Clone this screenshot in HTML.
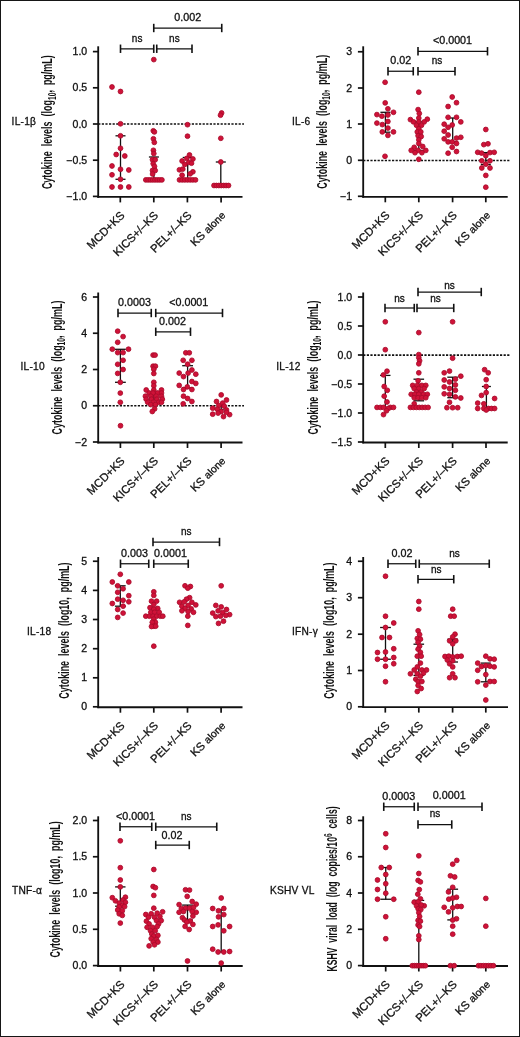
<!DOCTYPE html>
<html><head><meta charset="utf-8"><title>Figure</title>
<style>
html,body{margin:0;padding:0;background:#fff;}
body{width:520px;height:1037px;overflow:hidden;position:relative;font-family:"Liberation Sans",sans-serif;}
#frame{position:absolute;left:0;top:0;width:518px;height:1035px;border:1px solid #161616;}
svg text{stroke:#111;stroke-width:0.3px;}
svg text.yl{stroke-width:0;}
svg{position:absolute;left:0;top:0;will-change:transform;font-family:"Liberation Sans",sans-serif;}
</style></head><body>
<div id="frame"></div>
<svg width="520" height="1037" viewBox="0 0 520 1037">
<line x1="98.20" y1="124.00" x2="244.00" y2="124.00" stroke="#111" stroke-width="1.55" stroke-dasharray="2.2 1.4"/>
<line x1="98.20" y1="46.30" x2="98.20" y2="197.80" stroke="#111" stroke-width="1.85" />
<line x1="97.30" y1="196.90" x2="242.50" y2="196.90" stroke="#111" stroke-width="1.85" />
<line x1="92.90" y1="51.60" x2="98.20" y2="51.60" stroke="#111" stroke-width="1.7" />
<text transform="translate(87.20,55.15) scale(1.055,1)" font-size="10.0" text-anchor="end" fill="#111" >1.0</text>
<line x1="92.90" y1="87.80" x2="98.20" y2="87.80" stroke="#111" stroke-width="1.7" />
<text transform="translate(87.20,91.35) scale(1.055,1)" font-size="10.0" text-anchor="end" fill="#111" >0.5</text>
<line x1="92.90" y1="124.00" x2="98.20" y2="124.00" stroke="#111" stroke-width="1.7" />
<text transform="translate(87.20,127.55) scale(1.055,1)" font-size="10.0" text-anchor="end" fill="#111" >0.0</text>
<line x1="92.90" y1="160.20" x2="98.20" y2="160.20" stroke="#111" stroke-width="1.7" />
<text transform="translate(87.20,163.75) scale(1.055,1)" font-size="10.0" text-anchor="end" fill="#111" >−0.5</text>
<line x1="92.90" y1="196.40" x2="98.20" y2="196.40" stroke="#111" stroke-width="1.7" />
<text transform="translate(87.20,199.95) scale(1.055,1)" font-size="10.0" text-anchor="end" fill="#111" >−1.0</text>
<line x1="120.30" y1="196.90" x2="120.30" y2="202.40" stroke="#111" stroke-width="1.7" />
<g transform="translate(125.30,216.00) rotate(-45)">
<text x="0.00" y="0.00" font-size="11.4" text-anchor="end" fill="#111" >MCD+KS</text>
</g>
<line x1="153.80" y1="196.90" x2="153.80" y2="202.40" stroke="#111" stroke-width="1.7" />
<g transform="translate(158.80,216.00) rotate(-45)">
<text x="0.00" y="0.00" font-size="11.4" text-anchor="end" fill="#111" >KICS+/–KS</text>
</g>
<line x1="187.40" y1="196.90" x2="187.40" y2="202.40" stroke="#111" stroke-width="1.7" />
<g transform="translate(192.40,216.00) rotate(-45)">
<text x="0.00" y="0.00" font-size="11.4" text-anchor="end" fill="#111" >PEL+/–KS</text>
</g>
<line x1="221.10" y1="196.90" x2="221.10" y2="202.40" stroke="#111" stroke-width="1.7" />
<g transform="translate(226.10,216.00) rotate(-45)">
<text x="0" y="0" font-size="11.4" text-anchor="end" fill="#111">KS <tspan font-size="10.4">alone</tspan></text>
</g>
<line x1="120.50" y1="135.80" x2="120.50" y2="179.30" stroke="#111" stroke-width="1.3" />
<line x1="115.50" y1="135.80" x2="125.50" y2="135.80" stroke="#111" stroke-width="1.3" />
<line x1="115.50" y1="179.30" x2="125.50" y2="179.30" stroke="#111" stroke-width="1.3" />
<line x1="153.90" y1="157.00" x2="153.90" y2="179.90" stroke="#111" stroke-width="1.3" />
<line x1="148.90" y1="157.00" x2="158.90" y2="157.00" stroke="#111" stroke-width="1.3" />
<line x1="148.90" y1="179.90" x2="158.90" y2="179.90" stroke="#111" stroke-width="1.3" />
<line x1="187.70" y1="157.50" x2="187.70" y2="179.90" stroke="#111" stroke-width="1.3" />
<line x1="182.70" y1="157.50" x2="192.70" y2="157.50" stroke="#111" stroke-width="1.3" />
<line x1="182.70" y1="179.90" x2="192.70" y2="179.90" stroke="#111" stroke-width="1.3" />
<line x1="220.80" y1="162.00" x2="220.80" y2="185.50" stroke="#111" stroke-width="1.3" />
<line x1="215.80" y1="162.00" x2="225.80" y2="162.00" stroke="#111" stroke-width="1.3" />
<g fill="#cf1238" stroke="#a90b2a" stroke-width="0.85">
<circle cx="112.00" cy="87.00" r="2.4"/>
<circle cx="120.50" cy="91.50" r="2.4"/>
<circle cx="120.50" cy="123.80" r="2.4"/>
<circle cx="120.50" cy="135.80" r="2.4"/>
<circle cx="120.50" cy="148.30" r="2.4"/>
<circle cx="116.20" cy="154.50" r="2.4"/>
<circle cx="124.80" cy="156.00" r="2.4"/>
<circle cx="112.00" cy="166.00" r="2.4"/>
<circle cx="120.50" cy="169.30" r="2.4"/>
<circle cx="128.80" cy="170.00" r="2.4"/>
<circle cx="112.00" cy="174.80" r="2.4"/>
<circle cx="120.50" cy="179.30" r="2.4"/>
<circle cx="112.00" cy="187.00" r="2.4"/>
<circle cx="120.50" cy="187.00" r="2.4"/>
<circle cx="128.80" cy="187.00" r="2.4"/>
<circle cx="153.80" cy="59.60" r="2.4"/>
<circle cx="153.30" cy="130.80" r="2.4"/>
<circle cx="154.40" cy="131.90" r="2.4"/>
<circle cx="153.40" cy="138.80" r="2.4"/>
<circle cx="154.30" cy="142.40" r="2.4"/>
<circle cx="153.40" cy="150.30" r="2.4"/>
<circle cx="153.80" cy="153.60" r="2.4"/>
<circle cx="152.50" cy="159.70" r="2.4"/>
<circle cx="155.20" cy="159.70" r="2.4"/>
<circle cx="153.20" cy="163.70" r="2.4"/>
<circle cx="154.50" cy="166.40" r="2.4"/>
<circle cx="152.50" cy="170.50" r="2.4"/>
<circle cx="155.20" cy="170.50" r="2.4"/>
<circle cx="152.60" cy="174.00" r="2.4"/>
<circle cx="145.80" cy="179.90" r="2.4"/>
<circle cx="148.10" cy="179.90" r="2.4"/>
<circle cx="150.40" cy="179.90" r="2.4"/>
<circle cx="152.70" cy="179.90" r="2.4"/>
<circle cx="155.00" cy="179.90" r="2.4"/>
<circle cx="157.30" cy="179.90" r="2.4"/>
<circle cx="159.60" cy="179.90" r="2.4"/>
<circle cx="161.90" cy="179.90" r="2.4"/>
<circle cx="187.50" cy="124.70" r="2.4"/>
<circle cx="187.50" cy="136.20" r="2.4"/>
<circle cx="189.50" cy="155.00" r="2.4"/>
<circle cx="186.80" cy="158.40" r="2.4"/>
<circle cx="192.90" cy="159.00" r="2.4"/>
<circle cx="182.10" cy="161.00" r="2.4"/>
<circle cx="188.80" cy="162.40" r="2.4"/>
<circle cx="184.80" cy="164.40" r="2.4"/>
<circle cx="191.50" cy="163.20" r="2.4"/>
<circle cx="179.40" cy="169.80" r="2.4"/>
<circle cx="182.80" cy="169.10" r="2.4"/>
<circle cx="192.90" cy="171.80" r="2.4"/>
<circle cx="190.20" cy="173.80" r="2.4"/>
<circle cx="182.10" cy="175.20" r="2.4"/>
<circle cx="179.50" cy="179.90" r="2.4"/>
<circle cx="182.17" cy="179.90" r="2.4"/>
<circle cx="184.83" cy="179.90" r="2.4"/>
<circle cx="187.50" cy="179.90" r="2.4"/>
<circle cx="190.17" cy="179.90" r="2.4"/>
<circle cx="192.83" cy="179.90" r="2.4"/>
<circle cx="195.50" cy="179.90" r="2.4"/>
<circle cx="221.60" cy="113.00" r="2.4"/>
<circle cx="220.50" cy="115.20" r="2.4"/>
<circle cx="220.80" cy="138.30" r="2.4"/>
<circle cx="220.80" cy="162.00" r="2.4"/>
<circle cx="214.00" cy="185.50" r="2.4"/>
<circle cx="216.42" cy="185.50" r="2.4"/>
<circle cx="218.83" cy="185.50" r="2.4"/>
<circle cx="221.25" cy="185.50" r="2.4"/>
<circle cx="223.67" cy="185.50" r="2.4"/>
<circle cx="226.08" cy="185.50" r="2.4"/>
<circle cx="228.50" cy="185.50" r="2.4"/>
</g>
<line x1="120.50" y1="48.75" x2="153.75" y2="48.75" stroke="#111" stroke-width="1.25" />
<line x1="120.50" y1="44.55" x2="120.50" y2="52.95" stroke="#111" stroke-width="1.6" />
<line x1="153.75" y1="44.55" x2="153.75" y2="52.95" stroke="#111" stroke-width="1.6" />
<text x="137.12" y="41.75" font-size="10.0" text-anchor="middle" fill="#111" >ns</text>
<line x1="156.75" y1="48.75" x2="192.00" y2="48.75" stroke="#111" stroke-width="1.25" />
<line x1="156.75" y1="44.55" x2="156.75" y2="52.95" stroke="#111" stroke-width="1.6" />
<line x1="192.00" y1="44.55" x2="192.00" y2="52.95" stroke="#111" stroke-width="1.6" />
<text x="174.38" y="41.75" font-size="10.0" text-anchor="middle" fill="#111" >ns</text>
<line x1="153.75" y1="28.00" x2="221.75" y2="28.00" stroke="#111" stroke-width="1.25" />
<line x1="153.75" y1="23.80" x2="153.75" y2="32.20" stroke="#111" stroke-width="1.6" />
<line x1="221.75" y1="23.80" x2="221.75" y2="32.20" stroke="#111" stroke-width="1.6" />
<text transform="translate(187.75,21.00) scale(1.075,1)" font-size="10.0" text-anchor="middle" fill="#111" >0.002</text>
<text x="11.60" y="124.80" font-size="10.2" text-anchor="start" fill="#111" letter-spacing="0.22">IL-1β</text>
<g transform="translate(52.40,122.20) rotate(-90) scale(0.612,1)">
<text x="0.00" y="0.00" font-size="14.6" text-anchor="middle" fill="#111" class="yl" font-weight="bold" word-spacing="4.2">Cytokine levels (log<tspan font-size="11" dy="3.2">10</tspan><tspan dy="-3.2">, pg/mL)</tspan></text>
</g>
<line x1="363.20" y1="160.40" x2="509.50" y2="160.40" stroke="#111" stroke-width="1.55" stroke-dasharray="2.2 1.4"/>
<line x1="363.20" y1="46.30" x2="363.20" y2="197.70" stroke="#111" stroke-width="1.85" />
<line x1="362.30" y1="196.80" x2="507.70" y2="196.80" stroke="#111" stroke-width="1.85" />
<line x1="357.90" y1="51.75" x2="363.20" y2="51.75" stroke="#111" stroke-width="1.7" />
<text transform="translate(352.20,55.30) scale(1.055,1)" font-size="10.0" text-anchor="end" fill="#111" >3</text>
<line x1="357.90" y1="88.00" x2="363.20" y2="88.00" stroke="#111" stroke-width="1.7" />
<text transform="translate(352.20,91.55) scale(1.055,1)" font-size="10.0" text-anchor="end" fill="#111" >2</text>
<line x1="357.90" y1="124.00" x2="363.20" y2="124.00" stroke="#111" stroke-width="1.7" />
<text transform="translate(352.20,127.55) scale(1.055,1)" font-size="10.0" text-anchor="end" fill="#111" >1</text>
<line x1="357.90" y1="160.30" x2="363.20" y2="160.30" stroke="#111" stroke-width="1.7" />
<text transform="translate(352.20,163.85) scale(1.055,1)" font-size="10.0" text-anchor="end" fill="#111" >0</text>
<line x1="357.90" y1="196.30" x2="363.20" y2="196.30" stroke="#111" stroke-width="1.7" />
<text transform="translate(352.20,199.85) scale(1.055,1)" font-size="10.0" text-anchor="end" fill="#111" >−1</text>
<line x1="385.30" y1="196.80" x2="385.30" y2="202.30" stroke="#111" stroke-width="1.7" />
<g transform="translate(390.30,215.90) rotate(-45)">
<text x="0.00" y="0.00" font-size="11.4" text-anchor="end" fill="#111" >MCD+KS</text>
</g>
<line x1="418.80" y1="196.80" x2="418.80" y2="202.30" stroke="#111" stroke-width="1.7" />
<g transform="translate(423.80,215.90) rotate(-45)">
<text x="0.00" y="0.00" font-size="11.4" text-anchor="end" fill="#111" >KICS+/–KS</text>
</g>
<line x1="452.60" y1="196.80" x2="452.60" y2="202.30" stroke="#111" stroke-width="1.7" />
<g transform="translate(457.60,215.90) rotate(-45)">
<text x="0.00" y="0.00" font-size="11.4" text-anchor="end" fill="#111" >PEL+/–KS</text>
</g>
<line x1="485.80" y1="196.80" x2="485.80" y2="202.30" stroke="#111" stroke-width="1.7" />
<g transform="translate(490.80,215.90) rotate(-45)">
<text x="0" y="0" font-size="11.4" text-anchor="end" fill="#111">KS <tspan font-size="10.4">alone</tspan></text>
</g>
<line x1="385.40" y1="112.30" x2="385.40" y2="132.20" stroke="#111" stroke-width="1.3" />
<line x1="380.40" y1="112.30" x2="390.40" y2="112.30" stroke="#111" stroke-width="1.3" />
<line x1="380.40" y1="132.20" x2="390.40" y2="132.20" stroke="#111" stroke-width="1.3" />
<line x1="418.80" y1="121.90" x2="418.80" y2="150.40" stroke="#111" stroke-width="1.3" />
<line x1="413.80" y1="121.90" x2="423.80" y2="121.90" stroke="#111" stroke-width="1.3" />
<line x1="413.80" y1="150.40" x2="423.80" y2="150.40" stroke="#111" stroke-width="1.3" />
<line x1="452.70" y1="118.00" x2="452.70" y2="142.00" stroke="#111" stroke-width="1.3" />
<line x1="447.70" y1="118.00" x2="457.70" y2="118.00" stroke="#111" stroke-width="1.3" />
<line x1="447.70" y1="142.00" x2="457.70" y2="142.00" stroke="#111" stroke-width="1.3" />
<line x1="485.80" y1="152.60" x2="485.80" y2="164.50" stroke="#111" stroke-width="1.3" />
<line x1="480.80" y1="152.60" x2="490.80" y2="152.60" stroke="#111" stroke-width="1.3" />
<line x1="480.80" y1="164.50" x2="490.80" y2="164.50" stroke="#111" stroke-width="1.3" />
<g fill="#cf1238" stroke="#a90b2a" stroke-width="0.85">
<circle cx="385.10" cy="82.30" r="2.4"/>
<circle cx="385.20" cy="102.90" r="2.4"/>
<circle cx="387.90" cy="108.80" r="2.4"/>
<circle cx="393.50" cy="112.30" r="2.4"/>
<circle cx="376.90" cy="114.60" r="2.4"/>
<circle cx="381.90" cy="116.20" r="2.4"/>
<circle cx="387.90" cy="115.00" r="2.4"/>
<circle cx="387.90" cy="121.50" r="2.4"/>
<circle cx="376.90" cy="123.10" r="2.4"/>
<circle cx="382.30" cy="124.60" r="2.4"/>
<circle cx="387.90" cy="128.10" r="2.4"/>
<circle cx="382.30" cy="131.90" r="2.4"/>
<circle cx="393.50" cy="131.90" r="2.4"/>
<circle cx="387.90" cy="135.40" r="2.4"/>
<circle cx="385.00" cy="156.30" r="2.4"/>
<circle cx="418.80" cy="92.20" r="2.4"/>
<circle cx="418.10" cy="109.60" r="2.4"/>
<circle cx="419.30" cy="113.50" r="2.4"/>
<circle cx="410.40" cy="119.60" r="2.4"/>
<circle cx="427.30" cy="119.20" r="2.4"/>
<circle cx="413.50" cy="121.90" r="2.4"/>
<circle cx="424.20" cy="121.90" r="2.4"/>
<circle cx="418.80" cy="118.10" r="2.4"/>
<circle cx="418.80" cy="121.90" r="2.4"/>
<circle cx="416.50" cy="125.30" r="2.4"/>
<circle cx="421.50" cy="125.30" r="2.4"/>
<circle cx="418.80" cy="128.80" r="2.4"/>
<circle cx="417.30" cy="131.90" r="2.4"/>
<circle cx="420.80" cy="131.90" r="2.4"/>
<circle cx="418.10" cy="135.80" r="2.4"/>
<circle cx="421.20" cy="136.50" r="2.4"/>
<circle cx="418.80" cy="139.80" r="2.4"/>
<circle cx="418.80" cy="143.50" r="2.4"/>
<circle cx="414.20" cy="147.30" r="2.4"/>
<circle cx="422.70" cy="146.50" r="2.4"/>
<circle cx="411.20" cy="150.40" r="2.4"/>
<circle cx="418.10" cy="150.40" r="2.4"/>
<circle cx="425.80" cy="150.40" r="2.4"/>
<circle cx="415.00" cy="152.70" r="2.4"/>
<circle cx="421.90" cy="152.70" r="2.4"/>
<circle cx="418.80" cy="159.30" r="2.4"/>
<circle cx="452.20" cy="97.00" r="2.4"/>
<circle cx="456.50" cy="102.70" r="2.4"/>
<circle cx="448.10" cy="106.50" r="2.4"/>
<circle cx="448.10" cy="117.30" r="2.4"/>
<circle cx="456.50" cy="117.30" r="2.4"/>
<circle cx="460.80" cy="121.90" r="2.4"/>
<circle cx="444.20" cy="124.20" r="2.4"/>
<circle cx="452.20" cy="125.00" r="2.4"/>
<circle cx="448.10" cy="127.30" r="2.4"/>
<circle cx="444.20" cy="131.20" r="2.4"/>
<circle cx="448.10" cy="135.00" r="2.4"/>
<circle cx="444.20" cy="138.80" r="2.4"/>
<circle cx="456.50" cy="138.10" r="2.4"/>
<circle cx="460.80" cy="137.30" r="2.4"/>
<circle cx="448.10" cy="141.90" r="2.4"/>
<circle cx="452.20" cy="141.90" r="2.4"/>
<circle cx="456.50" cy="143.50" r="2.4"/>
<circle cx="452.20" cy="147.30" r="2.4"/>
<circle cx="456.50" cy="151.50" r="2.4"/>
<circle cx="448.10" cy="153.20" r="2.4"/>
<circle cx="485.80" cy="129.50" r="2.4"/>
<circle cx="483.80" cy="144.60" r="2.4"/>
<circle cx="488.00" cy="143.80" r="2.4"/>
<circle cx="477.70" cy="152.30" r="2.4"/>
<circle cx="481.50" cy="153.10" r="2.4"/>
<circle cx="490.00" cy="152.60" r="2.4"/>
<circle cx="494.20" cy="152.30" r="2.4"/>
<circle cx="485.80" cy="155.70" r="2.4"/>
<circle cx="481.80" cy="160.80" r="2.4"/>
<circle cx="490.00" cy="160.80" r="2.4"/>
<circle cx="485.80" cy="164.20" r="2.4"/>
<circle cx="481.80" cy="168.00" r="2.4"/>
<circle cx="490.00" cy="168.00" r="2.4"/>
<circle cx="485.80" cy="175.40" r="2.4"/>
<circle cx="485.80" cy="187.20" r="2.4"/>
</g>
<line x1="388.00" y1="71.25" x2="413.25" y2="71.25" stroke="#111" stroke-width="1.25" />
<line x1="388.00" y1="67.05" x2="388.00" y2="75.45" stroke="#111" stroke-width="1.6" />
<line x1="413.25" y1="67.05" x2="413.25" y2="75.45" stroke="#111" stroke-width="1.6" />
<text transform="translate(400.75,64.25) scale(1.075,1)" font-size="10.0" text-anchor="middle" fill="#111" >0.02</text>
<line x1="418.00" y1="71.25" x2="455.00" y2="71.25" stroke="#111" stroke-width="1.25" />
<line x1="418.00" y1="67.05" x2="418.00" y2="75.45" stroke="#111" stroke-width="1.6" />
<line x1="455.00" y1="67.05" x2="455.00" y2="75.45" stroke="#111" stroke-width="1.6" />
<text x="437.00" y="64.25" font-size="10.0" text-anchor="middle" fill="#111" >ns</text>
<line x1="418.00" y1="51.25" x2="487.50" y2="51.25" stroke="#111" stroke-width="1.25" />
<line x1="418.00" y1="47.05" x2="418.00" y2="55.45" stroke="#111" stroke-width="1.6" />
<line x1="487.50" y1="47.05" x2="487.50" y2="55.45" stroke="#111" stroke-width="1.6" />
<text transform="translate(452.50,44.25) scale(1.075,1)" font-size="10.0" text-anchor="middle" fill="#111" >&lt;0.0001</text>
<text x="292.00" y="125.40" font-size="10.2" text-anchor="start" fill="#111" letter-spacing="0.22">IL-6</text>
<g transform="translate(326.80,121.75) rotate(-90) scale(0.612,1)">
<text x="0.00" y="0.00" font-size="14.6" text-anchor="middle" fill="#111" class="yl" font-weight="bold" word-spacing="4.2">Cytokine levels (log<tspan font-size="11" dy="3.2">10</tspan><tspan dy="-3.2">, pg/mL)</tspan></text>
</g>
<line x1="98.20" y1="405.70" x2="244.00" y2="405.70" stroke="#111" stroke-width="1.55" stroke-dasharray="2.2 1.4"/>
<line x1="98.20" y1="292.50" x2="98.20" y2="443.40" stroke="#111" stroke-width="1.85" />
<line x1="97.30" y1="442.50" x2="242.50" y2="442.50" stroke="#111" stroke-width="1.85" />
<line x1="92.90" y1="297.00" x2="98.20" y2="297.00" stroke="#111" stroke-width="1.7" />
<text transform="translate(87.20,300.55) scale(1.055,1)" font-size="10.0" text-anchor="end" fill="#111" >6</text>
<line x1="92.90" y1="333.25" x2="98.20" y2="333.25" stroke="#111" stroke-width="1.7" />
<text transform="translate(87.20,336.80) scale(1.055,1)" font-size="10.0" text-anchor="end" fill="#111" >4</text>
<line x1="92.90" y1="369.50" x2="98.20" y2="369.50" stroke="#111" stroke-width="1.7" />
<text transform="translate(87.20,373.05) scale(1.055,1)" font-size="10.0" text-anchor="end" fill="#111" >2</text>
<line x1="92.90" y1="405.75" x2="98.20" y2="405.75" stroke="#111" stroke-width="1.7" />
<text transform="translate(87.20,409.30) scale(1.055,1)" font-size="10.0" text-anchor="end" fill="#111" >0</text>
<line x1="92.90" y1="442.00" x2="98.20" y2="442.00" stroke="#111" stroke-width="1.7" />
<text transform="translate(87.20,445.55) scale(1.055,1)" font-size="10.0" text-anchor="end" fill="#111" >−2</text>
<line x1="120.40" y1="442.50" x2="120.40" y2="448.00" stroke="#111" stroke-width="1.7" />
<g transform="translate(125.40,461.60) rotate(-45)">
<text x="0.00" y="0.00" font-size="11.4" text-anchor="end" fill="#111" >MCD+KS</text>
</g>
<line x1="153.80" y1="442.50" x2="153.80" y2="448.00" stroke="#111" stroke-width="1.7" />
<g transform="translate(158.80,461.60) rotate(-45)">
<text x="0.00" y="0.00" font-size="11.4" text-anchor="end" fill="#111" >KICS+/–KS</text>
</g>
<line x1="187.50" y1="442.50" x2="187.50" y2="448.00" stroke="#111" stroke-width="1.7" />
<g transform="translate(192.50,461.60) rotate(-45)">
<text x="0.00" y="0.00" font-size="11.4" text-anchor="end" fill="#111" >PEL+/–KS</text>
</g>
<line x1="221.10" y1="442.50" x2="221.10" y2="448.00" stroke="#111" stroke-width="1.7" />
<g transform="translate(226.10,461.60) rotate(-45)">
<text x="0" y="0" font-size="11.4" text-anchor="end" fill="#111">KS <tspan font-size="10.4">alone</tspan></text>
</g>
<line x1="120.40" y1="349.30" x2="120.40" y2="382.30" stroke="#111" stroke-width="1.3" />
<line x1="115.00" y1="349.30" x2="125.80" y2="349.30" stroke="#111" stroke-width="1.3" />
<line x1="115.00" y1="382.30" x2="125.80" y2="382.30" stroke="#111" stroke-width="1.3" />
<line x1="153.80" y1="393.00" x2="153.80" y2="399.20" stroke="#111" stroke-width="1.3" />
<line x1="148.80" y1="393.00" x2="158.80" y2="393.00" stroke="#111" stroke-width="1.3" />
<line x1="148.80" y1="399.20" x2="158.80" y2="399.20" stroke="#111" stroke-width="1.3" />
<line x1="187.60" y1="365.70" x2="187.60" y2="388.00" stroke="#111" stroke-width="1.3" />
<line x1="182.20" y1="365.70" x2="193.00" y2="365.70" stroke="#111" stroke-width="1.3" />
<line x1="182.20" y1="388.00" x2="193.00" y2="388.00" stroke="#111" stroke-width="1.3" />
<line x1="221.20" y1="405.80" x2="221.20" y2="409.50" stroke="#111" stroke-width="1.3" />
<line x1="218.70" y1="405.80" x2="223.70" y2="405.80" stroke="#111" stroke-width="1.3" />
<line x1="218.70" y1="409.50" x2="223.70" y2="409.50" stroke="#111" stroke-width="1.3" />
<g fill="#cf1238" stroke="#a90b2a" stroke-width="0.85">
<circle cx="117.70" cy="331.20" r="2.4"/>
<circle cx="123.10" cy="336.60" r="2.4"/>
<circle cx="117.70" cy="342.30" r="2.4"/>
<circle cx="112.30" cy="349.20" r="2.4"/>
<circle cx="128.50" cy="349.20" r="2.4"/>
<circle cx="117.70" cy="352.60" r="2.4"/>
<circle cx="123.10" cy="352.60" r="2.4"/>
<circle cx="123.10" cy="360.30" r="2.4"/>
<circle cx="117.70" cy="364.30" r="2.4"/>
<circle cx="123.10" cy="369.50" r="2.4"/>
<circle cx="117.70" cy="373.40" r="2.4"/>
<circle cx="120.30" cy="382.30" r="2.4"/>
<circle cx="120.30" cy="393.10" r="2.4"/>
<circle cx="120.30" cy="402.30" r="2.4"/>
<circle cx="120.50" cy="425.75" r="2.4"/>
<circle cx="153.10" cy="355.10" r="2.4"/>
<circle cx="155.10" cy="355.10" r="2.4"/>
<circle cx="153.10" cy="366.20" r="2.4"/>
<circle cx="155.40" cy="366.20" r="2.4"/>
<circle cx="153.80" cy="369.20" r="2.4"/>
<circle cx="153.80" cy="373.50" r="2.4"/>
<circle cx="153.80" cy="382.30" r="2.4"/>
<circle cx="153.80" cy="385.80" r="2.4"/>
<circle cx="146.20" cy="390.00" r="2.4"/>
<circle cx="153.80" cy="390.00" r="2.4"/>
<circle cx="161.50" cy="390.00" r="2.4"/>
<circle cx="149.20" cy="393.00" r="2.4"/>
<circle cx="153.10" cy="393.00" r="2.4"/>
<circle cx="157.70" cy="393.00" r="2.4"/>
<circle cx="161.50" cy="393.00" r="2.4"/>
<circle cx="145.40" cy="396.20" r="2.4"/>
<circle cx="150.80" cy="396.20" r="2.4"/>
<circle cx="156.20" cy="396.20" r="2.4"/>
<circle cx="161.50" cy="396.20" r="2.4"/>
<circle cx="146.20" cy="399.20" r="2.4"/>
<circle cx="151.50" cy="399.20" r="2.4"/>
<circle cx="156.90" cy="399.20" r="2.4"/>
<circle cx="162.30" cy="399.20" r="2.4"/>
<circle cx="147.70" cy="402.30" r="2.4"/>
<circle cx="153.10" cy="402.30" r="2.4"/>
<circle cx="158.50" cy="402.30" r="2.4"/>
<circle cx="161.50" cy="402.30" r="2.4"/>
<circle cx="150.80" cy="404.60" r="2.4"/>
<circle cx="155.40" cy="404.60" r="2.4"/>
<circle cx="154.60" cy="408.90" r="2.4"/>
<circle cx="152.30" cy="411.50" r="2.4"/>
<circle cx="185.80" cy="352.80" r="2.4"/>
<circle cx="189.30" cy="352.80" r="2.4"/>
<circle cx="183.20" cy="360.30" r="2.4"/>
<circle cx="191.90" cy="360.30" r="2.4"/>
<circle cx="187.60" cy="364.20" r="2.4"/>
<circle cx="191.90" cy="370.00" r="2.4"/>
<circle cx="179.20" cy="373.10" r="2.4"/>
<circle cx="188.10" cy="373.10" r="2.4"/>
<circle cx="195.80" cy="374.20" r="2.4"/>
<circle cx="183.50" cy="376.60" r="2.4"/>
<circle cx="191.90" cy="381.50" r="2.4"/>
<circle cx="195.80" cy="383.40" r="2.4"/>
<circle cx="179.20" cy="385.40" r="2.4"/>
<circle cx="187.30" cy="386.90" r="2.4"/>
<circle cx="183.50" cy="389.50" r="2.4"/>
<circle cx="191.90" cy="389.50" r="2.4"/>
<circle cx="183.50" cy="396.20" r="2.4"/>
<circle cx="187.60" cy="398.50" r="2.4"/>
<circle cx="191.90" cy="401.50" r="2.4"/>
<circle cx="183.20" cy="403.80" r="2.4"/>
<circle cx="221.20" cy="394.90" r="2.4"/>
<circle cx="226.50" cy="400.00" r="2.4"/>
<circle cx="216.50" cy="401.50" r="2.4"/>
<circle cx="222.70" cy="403.10" r="2.4"/>
<circle cx="218.80" cy="405.40" r="2.4"/>
<circle cx="224.20" cy="406.20" r="2.4"/>
<circle cx="212.70" cy="408.20" r="2.4"/>
<circle cx="217.30" cy="409.20" r="2.4"/>
<circle cx="226.50" cy="410.00" r="2.4"/>
<circle cx="221.20" cy="411.50" r="2.4"/>
<circle cx="212.70" cy="414.20" r="2.4"/>
<circle cx="218.10" cy="413.10" r="2.4"/>
<circle cx="229.60" cy="414.60" r="2.4"/>
<circle cx="223.50" cy="416.60" r="2.4"/>
<circle cx="226.50" cy="412.30" r="2.4"/>
</g>
<line x1="118.00" y1="313.00" x2="151.25" y2="313.00" stroke="#111" stroke-width="1.25" />
<line x1="118.00" y1="308.80" x2="118.00" y2="317.20" stroke="#111" stroke-width="1.6" />
<line x1="151.25" y1="308.80" x2="151.25" y2="317.20" stroke="#111" stroke-width="1.6" />
<text transform="translate(134.50,306.00) scale(1.075,1)" font-size="10.0" text-anchor="middle" fill="#111" >0.0003</text>
<line x1="155.75" y1="313.00" x2="222.50" y2="313.00" stroke="#111" stroke-width="1.25" />
<line x1="155.75" y1="308.80" x2="155.75" y2="317.20" stroke="#111" stroke-width="1.6" />
<line x1="222.50" y1="308.80" x2="222.50" y2="317.20" stroke="#111" stroke-width="1.6" />
<text transform="translate(188.75,306.00) scale(1.075,1)" font-size="10.0" text-anchor="middle" fill="#111" >&lt;0.0001</text>
<line x1="155.75" y1="331.75" x2="190.50" y2="331.75" stroke="#111" stroke-width="1.25" />
<line x1="155.75" y1="327.55" x2="155.75" y2="335.95" stroke="#111" stroke-width="1.6" />
<line x1="190.50" y1="327.55" x2="190.50" y2="335.95" stroke="#111" stroke-width="1.6" />
<text transform="translate(172.50,324.75) scale(1.075,1)" font-size="10.0" text-anchor="middle" fill="#111" >0.002</text>
<text x="20.50" y="370.40" font-size="10.2" text-anchor="start" fill="#111" letter-spacing="0.22">IL-10</text>
<g transform="translate(61.90,367.50) rotate(-90) scale(0.612,1)">
<text x="0.00" y="0.00" font-size="14.6" text-anchor="middle" fill="#111" class="yl" font-weight="bold" word-spacing="4.2">Cytokine levels (log<tspan font-size="11" dy="3.2">10</tspan><tspan dy="-3.2">, pg/mL)</tspan></text>
</g>
<line x1="363.20" y1="355.10" x2="509.50" y2="355.10" stroke="#111" stroke-width="1.55" stroke-dasharray="2.2 1.4"/>
<line x1="363.20" y1="292.50" x2="363.20" y2="443.40" stroke="#111" stroke-width="1.85" />
<line x1="362.30" y1="442.50" x2="507.70" y2="442.50" stroke="#111" stroke-width="1.85" />
<line x1="357.90" y1="297.00" x2="363.20" y2="297.00" stroke="#111" stroke-width="1.7" />
<text transform="translate(352.20,300.55) scale(1.055,1)" font-size="10.0" text-anchor="end" fill="#111" >1.0</text>
<line x1="357.90" y1="326.00" x2="363.20" y2="326.00" stroke="#111" stroke-width="1.7" />
<text transform="translate(352.20,329.55) scale(1.055,1)" font-size="10.0" text-anchor="end" fill="#111" >0.5</text>
<line x1="357.90" y1="355.00" x2="363.20" y2="355.00" stroke="#111" stroke-width="1.7" />
<text transform="translate(352.20,358.55) scale(1.055,1)" font-size="10.0" text-anchor="end" fill="#111" >0.0</text>
<line x1="357.90" y1="384.00" x2="363.20" y2="384.00" stroke="#111" stroke-width="1.7" />
<text transform="translate(352.20,387.55) scale(1.055,1)" font-size="10.0" text-anchor="end" fill="#111" >−0.5</text>
<line x1="357.90" y1="413.00" x2="363.20" y2="413.00" stroke="#111" stroke-width="1.7" />
<text transform="translate(352.20,416.55) scale(1.055,1)" font-size="10.0" text-anchor="end" fill="#111" >−1.0</text>
<line x1="357.90" y1="442.00" x2="363.20" y2="442.00" stroke="#111" stroke-width="1.7" />
<text transform="translate(352.20,445.55) scale(1.055,1)" font-size="10.0" text-anchor="end" fill="#111" >−1.5</text>
<line x1="385.30" y1="442.50" x2="385.30" y2="448.00" stroke="#111" stroke-width="1.7" />
<g transform="translate(390.30,461.60) rotate(-45)">
<text x="0.00" y="0.00" font-size="11.4" text-anchor="end" fill="#111" >MCD+KS</text>
</g>
<line x1="418.80" y1="442.50" x2="418.80" y2="448.00" stroke="#111" stroke-width="1.7" />
<g transform="translate(423.80,461.60) rotate(-45)">
<text x="0.00" y="0.00" font-size="11.4" text-anchor="end" fill="#111" >KICS+/–KS</text>
</g>
<line x1="452.60" y1="442.50" x2="452.60" y2="448.00" stroke="#111" stroke-width="1.7" />
<g transform="translate(457.60,461.60) rotate(-45)">
<text x="0.00" y="0.00" font-size="11.4" text-anchor="end" fill="#111" >PEL+/–KS</text>
</g>
<line x1="486.00" y1="442.50" x2="486.00" y2="448.00" stroke="#111" stroke-width="1.7" />
<g transform="translate(491.00,461.60) rotate(-45)">
<text x="0" y="0" font-size="11.4" text-anchor="end" fill="#111">KS <tspan font-size="10.4">alone</tspan></text>
</g>
<line x1="385.30" y1="375.40" x2="385.30" y2="407.40" stroke="#111" stroke-width="1.3" />
<line x1="380.10" y1="375.40" x2="390.50" y2="375.40" stroke="#111" stroke-width="1.3" />
<line x1="418.80" y1="379.20" x2="418.80" y2="400.80" stroke="#111" stroke-width="1.3" />
<line x1="413.50" y1="379.20" x2="424.10" y2="379.20" stroke="#111" stroke-width="1.3" />
<line x1="413.50" y1="400.80" x2="424.10" y2="400.80" stroke="#111" stroke-width="1.3" />
<line x1="452.60" y1="377.20" x2="452.60" y2="397.70" stroke="#111" stroke-width="1.3" />
<line x1="447.30" y1="377.20" x2="457.90" y2="377.20" stroke="#111" stroke-width="1.3" />
<line x1="447.30" y1="397.70" x2="457.90" y2="397.70" stroke="#111" stroke-width="1.3" />
<line x1="486.40" y1="386.50" x2="486.40" y2="408.50" stroke="#111" stroke-width="1.3" />
<line x1="481.90" y1="386.50" x2="490.90" y2="386.50" stroke="#111" stroke-width="1.3" />
<g fill="#cf1238" stroke="#a90b2a" stroke-width="0.85">
<circle cx="385.30" cy="321.80" r="2.4"/>
<circle cx="385.30" cy="349.70" r="2.4"/>
<circle cx="387.00" cy="371.20" r="2.4"/>
<circle cx="383.50" cy="374.90" r="2.4"/>
<circle cx="384.20" cy="386.50" r="2.4"/>
<circle cx="387.30" cy="390.30" r="2.4"/>
<circle cx="384.20" cy="396.20" r="2.4"/>
<circle cx="387.00" cy="402.00" r="2.4"/>
<circle cx="377.00" cy="407.40" r="2.4"/>
<circle cx="380.40" cy="407.40" r="2.4"/>
<circle cx="383.50" cy="407.40" r="2.4"/>
<circle cx="390.40" cy="407.40" r="2.4"/>
<circle cx="393.50" cy="407.40" r="2.4"/>
<circle cx="388.10" cy="408.50" r="2.4"/>
<circle cx="386.50" cy="410.80" r="2.4"/>
<circle cx="383.50" cy="414.60" r="2.4"/>
<circle cx="418.80" cy="332.60" r="2.4"/>
<circle cx="418.80" cy="354.60" r="2.4"/>
<circle cx="418.80" cy="357.70" r="2.4"/>
<circle cx="419.60" cy="360.80" r="2.4"/>
<circle cx="418.80" cy="363.80" r="2.4"/>
<circle cx="418.80" cy="372.80" r="2.4"/>
<circle cx="418.10" cy="380.80" r="2.4"/>
<circle cx="412.70" cy="385.40" r="2.4"/>
<circle cx="417.30" cy="385.40" r="2.4"/>
<circle cx="421.90" cy="385.40" r="2.4"/>
<circle cx="425.80" cy="385.40" r="2.4"/>
<circle cx="414.20" cy="388.50" r="2.4"/>
<circle cx="418.80" cy="388.50" r="2.4"/>
<circle cx="424.20" cy="388.50" r="2.4"/>
<circle cx="416.50" cy="392.00" r="2.4"/>
<circle cx="421.20" cy="392.00" r="2.4"/>
<circle cx="411.20" cy="394.30" r="2.4"/>
<circle cx="415.00" cy="394.30" r="2.4"/>
<circle cx="418.80" cy="394.30" r="2.4"/>
<circle cx="423.50" cy="394.30" r="2.4"/>
<circle cx="427.30" cy="394.30" r="2.4"/>
<circle cx="414.20" cy="397.70" r="2.4"/>
<circle cx="418.10" cy="397.70" r="2.4"/>
<circle cx="421.90" cy="397.70" r="2.4"/>
<circle cx="425.80" cy="397.70" r="2.4"/>
<circle cx="414.20" cy="403.80" r="2.4"/>
<circle cx="410.40" cy="407.40" r="2.4"/>
<circle cx="413.35" cy="407.40" r="2.4"/>
<circle cx="416.30" cy="407.40" r="2.4"/>
<circle cx="419.25" cy="407.40" r="2.4"/>
<circle cx="422.20" cy="407.40" r="2.4"/>
<circle cx="425.15" cy="407.40" r="2.4"/>
<circle cx="428.10" cy="407.40" r="2.4"/>
<circle cx="452.60" cy="321.80" r="2.4"/>
<circle cx="452.60" cy="358.20" r="2.4"/>
<circle cx="449.50" cy="371.10" r="2.4"/>
<circle cx="444.20" cy="372.80" r="2.4"/>
<circle cx="460.80" cy="376.20" r="2.4"/>
<circle cx="444.20" cy="380.00" r="2.4"/>
<circle cx="455.40" cy="379.20" r="2.4"/>
<circle cx="449.50" cy="382.00" r="2.4"/>
<circle cx="455.40" cy="384.90" r="2.4"/>
<circle cx="444.20" cy="386.90" r="2.4"/>
<circle cx="449.50" cy="388.50" r="2.4"/>
<circle cx="455.40" cy="390.30" r="2.4"/>
<circle cx="444.20" cy="393.80" r="2.4"/>
<circle cx="449.50" cy="394.30" r="2.4"/>
<circle cx="455.40" cy="396.90" r="2.4"/>
<circle cx="460.80" cy="398.00" r="2.4"/>
<circle cx="449.50" cy="402.30" r="2.4"/>
<circle cx="446.90" cy="407.70" r="2.4"/>
<circle cx="452.60" cy="407.70" r="2.4"/>
<circle cx="457.70" cy="407.70" r="2.4"/>
<circle cx="484.60" cy="369.70" r="2.4"/>
<circle cx="488.20" cy="372.80" r="2.4"/>
<circle cx="486.20" cy="379.70" r="2.4"/>
<circle cx="486.20" cy="386.50" r="2.4"/>
<circle cx="486.20" cy="392.60" r="2.4"/>
<circle cx="481.50" cy="395.40" r="2.4"/>
<circle cx="494.60" cy="398.50" r="2.4"/>
<circle cx="477.70" cy="403.10" r="2.4"/>
<circle cx="483.80" cy="403.80" r="2.4"/>
<circle cx="477.70" cy="408.50" r="2.4"/>
<circle cx="483.80" cy="408.50" r="2.4"/>
<circle cx="488.50" cy="408.50" r="2.4"/>
<circle cx="491.50" cy="408.50" r="2.4"/>
<circle cx="494.60" cy="408.50" r="2.4"/>
<circle cx="486.20" cy="410.00" r="2.4"/>
</g>
<line x1="385.00" y1="308.00" x2="414.25" y2="308.00" stroke="#111" stroke-width="1.25" />
<line x1="385.00" y1="303.80" x2="385.00" y2="312.20" stroke="#111" stroke-width="1.6" />
<line x1="414.25" y1="303.80" x2="414.25" y2="312.20" stroke="#111" stroke-width="1.6" />
<text x="399.50" y="302.00" font-size="10.0" text-anchor="middle" fill="#111" >ns</text>
<line x1="417.00" y1="308.00" x2="453.75" y2="308.00" stroke="#111" stroke-width="1.25" />
<line x1="417.00" y1="303.80" x2="417.00" y2="312.20" stroke="#111" stroke-width="1.6" />
<line x1="453.75" y1="303.80" x2="453.75" y2="312.20" stroke="#111" stroke-width="1.6" />
<text x="435.50" y="302.00" font-size="10.0" text-anchor="middle" fill="#111" >ns</text>
<line x1="418.00" y1="292.00" x2="481.25" y2="292.00" stroke="#111" stroke-width="1.25" />
<line x1="418.00" y1="287.80" x2="418.00" y2="296.20" stroke="#111" stroke-width="1.6" />
<line x1="481.25" y1="287.80" x2="481.25" y2="296.20" stroke="#111" stroke-width="1.6" />
<text x="449.50" y="289.20" font-size="10.0" text-anchor="middle" fill="#111" >ns</text>
<text x="276.30" y="370.40" font-size="10.2" text-anchor="start" fill="#111" letter-spacing="0.22">IL-12</text>
<g transform="translate(317.70,367.50) rotate(-90) scale(0.612,1)">
<text x="0.00" y="0.00" font-size="14.6" text-anchor="middle" fill="#111" class="yl" font-weight="bold" word-spacing="4.2">Cytokine levels (log<tspan font-size="11" dy="3.2">10</tspan><tspan dy="-3.2">, pg/mL)</tspan></text>
</g>
<line x1="98.20" y1="557.00" x2="98.20" y2="708.10" stroke="#111" stroke-width="1.85" />
<line x1="97.30" y1="707.20" x2="242.50" y2="707.20" stroke="#111" stroke-width="1.85" />
<line x1="92.90" y1="561.25" x2="98.20" y2="561.25" stroke="#111" stroke-width="1.7" />
<text transform="translate(87.20,564.80) scale(1.055,1)" font-size="10.0" text-anchor="end" fill="#111" >5</text>
<line x1="92.90" y1="590.40" x2="98.20" y2="590.40" stroke="#111" stroke-width="1.7" />
<text transform="translate(87.20,593.95) scale(1.055,1)" font-size="10.0" text-anchor="end" fill="#111" >4</text>
<line x1="92.90" y1="619.50" x2="98.20" y2="619.50" stroke="#111" stroke-width="1.7" />
<text transform="translate(87.20,623.05) scale(1.055,1)" font-size="10.0" text-anchor="end" fill="#111" >3</text>
<line x1="92.90" y1="648.70" x2="98.20" y2="648.70" stroke="#111" stroke-width="1.7" />
<text transform="translate(87.20,652.25) scale(1.055,1)" font-size="10.0" text-anchor="end" fill="#111" >2</text>
<line x1="92.90" y1="677.80" x2="98.20" y2="677.80" stroke="#111" stroke-width="1.7" />
<text transform="translate(87.20,681.35) scale(1.055,1)" font-size="10.0" text-anchor="end" fill="#111" >1</text>
<line x1="92.90" y1="706.80" x2="98.20" y2="706.80" stroke="#111" stroke-width="1.7" />
<text transform="translate(87.20,710.35) scale(1.055,1)" font-size="10.0" text-anchor="end" fill="#111" >0</text>
<line x1="120.40" y1="707.20" x2="120.40" y2="712.70" stroke="#111" stroke-width="1.7" />
<g transform="translate(125.40,726.30) rotate(-45)">
<text x="0.00" y="0.00" font-size="11.4" text-anchor="end" fill="#111" >MCD+KS</text>
</g>
<line x1="153.80" y1="707.20" x2="153.80" y2="712.70" stroke="#111" stroke-width="1.7" />
<g transform="translate(158.80,726.30) rotate(-45)">
<text x="0.00" y="0.00" font-size="11.4" text-anchor="end" fill="#111" >KICS+/–KS</text>
</g>
<line x1="187.50" y1="707.20" x2="187.50" y2="712.70" stroke="#111" stroke-width="1.7" />
<g transform="translate(192.50,726.30) rotate(-45)">
<text x="0.00" y="0.00" font-size="11.4" text-anchor="end" fill="#111" >PEL+/–KS</text>
</g>
<line x1="221.10" y1="707.20" x2="221.10" y2="712.70" stroke="#111" stroke-width="1.7" />
<g transform="translate(226.10,726.30) rotate(-45)">
<text x="0" y="0" font-size="11.4" text-anchor="end" fill="#111">KS <tspan font-size="10.4">alone</tspan></text>
</g>
<line x1="120.30" y1="585.80" x2="120.30" y2="606.20" stroke="#111" stroke-width="1.3" />
<line x1="114.90" y1="585.80" x2="125.70" y2="585.80" stroke="#111" stroke-width="1.3" />
<line x1="114.90" y1="606.20" x2="125.70" y2="606.20" stroke="#111" stroke-width="1.3" />
<g fill="#cf1238" stroke="#a90b2a" stroke-width="0.85">
<circle cx="120.30" cy="574.30" r="2.4"/>
<circle cx="112.30" cy="582.00" r="2.4"/>
<circle cx="128.80" cy="582.00" r="2.4"/>
<circle cx="117.70" cy="585.80" r="2.4"/>
<circle cx="123.10" cy="588.80" r="2.4"/>
<circle cx="117.70" cy="592.30" r="2.4"/>
<circle cx="128.80" cy="595.70" r="2.4"/>
<circle cx="117.70" cy="599.20" r="2.4"/>
<circle cx="123.10" cy="600.30" r="2.4"/>
<circle cx="128.80" cy="601.80" r="2.4"/>
<circle cx="112.30" cy="603.50" r="2.4"/>
<circle cx="123.10" cy="606.20" r="2.4"/>
<circle cx="117.70" cy="609.50" r="2.4"/>
<circle cx="123.10" cy="613.10" r="2.4"/>
<circle cx="117.70" cy="617.40" r="2.4"/>
<circle cx="153.80" cy="591.80" r="2.4"/>
<circle cx="153.80" cy="595.40" r="2.4"/>
<circle cx="151.50" cy="601.20" r="2.4"/>
<circle cx="156.60" cy="601.20" r="2.4"/>
<circle cx="153.80" cy="604.60" r="2.4"/>
<circle cx="150.00" cy="607.70" r="2.4"/>
<circle cx="157.70" cy="608.50" r="2.4"/>
<circle cx="153.80" cy="609.20" r="2.4"/>
<circle cx="150.80" cy="612.30" r="2.4"/>
<circle cx="154.60" cy="612.30" r="2.4"/>
<circle cx="159.20" cy="612.30" r="2.4"/>
<circle cx="145.80" cy="616.20" r="2.4"/>
<circle cx="149.50" cy="616.20" r="2.4"/>
<circle cx="153.10" cy="616.20" r="2.4"/>
<circle cx="156.60" cy="616.20" r="2.4"/>
<circle cx="160.30" cy="616.20" r="2.4"/>
<circle cx="162.80" cy="616.20" r="2.4"/>
<circle cx="153.80" cy="619.20" r="2.4"/>
<circle cx="155.40" cy="622.30" r="2.4"/>
<circle cx="152.30" cy="622.30" r="2.4"/>
<circle cx="153.80" cy="626.20" r="2.4"/>
<circle cx="151.50" cy="626.50" r="2.4"/>
<circle cx="155.70" cy="626.20" r="2.4"/>
<circle cx="153.80" cy="646.20" r="2.4"/>
<circle cx="185.00" cy="585.80" r="2.4"/>
<circle cx="190.40" cy="586.50" r="2.4"/>
<circle cx="187.80" cy="588.20" r="2.4"/>
<circle cx="189.60" cy="597.70" r="2.4"/>
<circle cx="186.50" cy="599.20" r="2.4"/>
<circle cx="179.60" cy="602.30" r="2.4"/>
<circle cx="184.20" cy="601.80" r="2.4"/>
<circle cx="191.90" cy="602.30" r="2.4"/>
<circle cx="195.80" cy="604.90" r="2.4"/>
<circle cx="181.90" cy="606.20" r="2.4"/>
<circle cx="188.10" cy="605.40" r="2.4"/>
<circle cx="185.00" cy="608.50" r="2.4"/>
<circle cx="191.20" cy="608.90" r="2.4"/>
<circle cx="181.90" cy="610.80" r="2.4"/>
<circle cx="188.10" cy="611.50" r="2.4"/>
<circle cx="193.50" cy="612.30" r="2.4"/>
<circle cx="187.80" cy="616.20" r="2.4"/>
<circle cx="187.80" cy="625.40" r="2.4"/>
<circle cx="221.20" cy="585.80" r="2.4"/>
<circle cx="215.80" cy="605.40" r="2.4"/>
<circle cx="221.20" cy="606.90" r="2.4"/>
<circle cx="226.50" cy="609.50" r="2.4"/>
<circle cx="218.10" cy="610.80" r="2.4"/>
<circle cx="212.70" cy="613.10" r="2.4"/>
<circle cx="222.70" cy="612.60" r="2.4"/>
<circle cx="229.60" cy="614.60" r="2.4"/>
<circle cx="225.80" cy="615.40" r="2.4"/>
<circle cx="215.80" cy="616.60" r="2.4"/>
<circle cx="220.40" cy="616.20" r="2.4"/>
<circle cx="223.50" cy="621.20" r="2.4"/>
<circle cx="218.50" cy="623.40" r="2.4"/>
</g>
<line x1="120.50" y1="563.75" x2="148.75" y2="563.75" stroke="#111" stroke-width="1.25" />
<line x1="120.50" y1="559.55" x2="120.50" y2="567.95" stroke="#111" stroke-width="1.6" />
<line x1="148.75" y1="559.55" x2="148.75" y2="567.95" stroke="#111" stroke-width="1.6" />
<text transform="translate(134.50,557.45) scale(1.075,1)" font-size="10.0" text-anchor="middle" fill="#111" >0.003</text>
<line x1="153.75" y1="563.75" x2="188.25" y2="563.75" stroke="#111" stroke-width="1.25" />
<line x1="153.75" y1="559.55" x2="153.75" y2="567.95" stroke="#111" stroke-width="1.6" />
<line x1="188.25" y1="559.55" x2="188.25" y2="567.95" stroke="#111" stroke-width="1.6" />
<text transform="translate(170.50,557.45) scale(1.075,1)" font-size="10.0" text-anchor="middle" fill="#111" >0.0001</text>
<line x1="153.00" y1="542.00" x2="219.50" y2="542.00" stroke="#111" stroke-width="1.25" />
<line x1="153.00" y1="537.80" x2="153.00" y2="546.20" stroke="#111" stroke-width="1.6" />
<line x1="219.50" y1="537.80" x2="219.50" y2="546.20" stroke="#111" stroke-width="1.6" />
<text x="186.25" y="534.50" font-size="10.0" text-anchor="middle" fill="#111" >ns</text>
<text x="27.00" y="635.00" font-size="10.2" text-anchor="start" fill="#111" letter-spacing="0.22">IL-18</text>
<g transform="translate(68.70,630.55) rotate(-90) scale(0.612,1)">
<text x="0.00" y="0.00" font-size="14.6" text-anchor="middle" fill="#111" class="yl" font-weight="bold" word-spacing="4.2">Cytokine levels (log10, pg/mL)</text>
</g>
<line x1="363.20" y1="557.00" x2="363.20" y2="708.00" stroke="#111" stroke-width="1.85" />
<line x1="362.30" y1="707.10" x2="508.00" y2="707.10" stroke="#111" stroke-width="1.85" />
<line x1="357.90" y1="561.25" x2="363.20" y2="561.25" stroke="#111" stroke-width="1.7" />
<text transform="translate(352.20,564.80) scale(1.055,1)" font-size="10.0" text-anchor="end" fill="#111" >4</text>
<line x1="357.90" y1="597.70" x2="363.20" y2="597.70" stroke="#111" stroke-width="1.7" />
<text transform="translate(352.20,601.25) scale(1.055,1)" font-size="10.0" text-anchor="end" fill="#111" >3</text>
<line x1="357.90" y1="634.20" x2="363.20" y2="634.20" stroke="#111" stroke-width="1.7" />
<text transform="translate(352.20,637.75) scale(1.055,1)" font-size="10.0" text-anchor="end" fill="#111" >2</text>
<line x1="357.90" y1="670.50" x2="363.20" y2="670.50" stroke="#111" stroke-width="1.7" />
<text transform="translate(352.20,674.05) scale(1.055,1)" font-size="10.0" text-anchor="end" fill="#111" >1</text>
<line x1="357.90" y1="706.80" x2="363.20" y2="706.80" stroke="#111" stroke-width="1.7" />
<text transform="translate(352.20,710.35) scale(1.055,1)" font-size="10.0" text-anchor="end" fill="#111" >0</text>
<line x1="385.30" y1="707.10" x2="385.30" y2="712.60" stroke="#111" stroke-width="1.7" />
<g transform="translate(390.30,726.20) rotate(-45)">
<text x="0.00" y="0.00" font-size="11.4" text-anchor="end" fill="#111" >MCD+KS</text>
</g>
<line x1="418.80" y1="707.10" x2="418.80" y2="712.60" stroke="#111" stroke-width="1.7" />
<g transform="translate(423.80,726.20) rotate(-45)">
<text x="0.00" y="0.00" font-size="11.4" text-anchor="end" fill="#111" >KICS+/–KS</text>
</g>
<line x1="452.60" y1="707.10" x2="452.60" y2="712.60" stroke="#111" stroke-width="1.7" />
<g transform="translate(457.60,726.20) rotate(-45)">
<text x="0.00" y="0.00" font-size="11.4" text-anchor="end" fill="#111" >PEL+/–KS</text>
</g>
<line x1="485.80" y1="707.10" x2="485.80" y2="712.60" stroke="#111" stroke-width="1.7" />
<g transform="translate(490.80,726.20) rotate(-45)">
<text x="0" y="0" font-size="11.4" text-anchor="end" fill="#111">KS <tspan font-size="10.4">alone</tspan></text>
</g>
<line x1="385.50" y1="627.50" x2="385.50" y2="659.25" stroke="#111" stroke-width="1.3" />
<line x1="380.10" y1="627.50" x2="390.90" y2="627.50" stroke="#111" stroke-width="1.3" />
<line x1="380.10" y1="659.25" x2="390.90" y2="659.25" stroke="#111" stroke-width="1.3" />
<line x1="418.80" y1="644.20" x2="418.80" y2="675.40" stroke="#111" stroke-width="1.3" />
<line x1="413.50" y1="644.20" x2="424.10" y2="644.20" stroke="#111" stroke-width="1.3" />
<line x1="413.50" y1="675.40" x2="424.10" y2="675.40" stroke="#111" stroke-width="1.3" />
<line x1="452.70" y1="639.20" x2="452.70" y2="662.00" stroke="#111" stroke-width="1.3" />
<line x1="447.40" y1="639.20" x2="458.00" y2="639.20" stroke="#111" stroke-width="1.3" />
<line x1="447.40" y1="662.00" x2="458.00" y2="662.00" stroke="#111" stroke-width="1.3" />
<line x1="485.80" y1="663.10" x2="485.80" y2="681.80" stroke="#111" stroke-width="1.3" />
<line x1="480.80" y1="663.10" x2="490.80" y2="663.10" stroke="#111" stroke-width="1.3" />
<line x1="480.80" y1="681.80" x2="490.80" y2="681.80" stroke="#111" stroke-width="1.3" />
<g fill="#cf1238" stroke="#a90b2a" stroke-width="0.85">
<circle cx="385.50" cy="576.25" r="2.4"/>
<circle cx="385.50" cy="616.25" r="2.4"/>
<circle cx="393.75" cy="623.00" r="2.4"/>
<circle cx="385.50" cy="627.50" r="2.4"/>
<circle cx="382.00" cy="637.50" r="2.4"/>
<circle cx="389.50" cy="637.50" r="2.4"/>
<circle cx="393.75" cy="648.75" r="2.4"/>
<circle cx="377.50" cy="652.50" r="2.4"/>
<circle cx="385.50" cy="652.00" r="2.4"/>
<circle cx="377.50" cy="659.25" r="2.4"/>
<circle cx="385.50" cy="659.25" r="2.4"/>
<circle cx="393.75" cy="657.50" r="2.4"/>
<circle cx="393.75" cy="663.75" r="2.4"/>
<circle cx="385.50" cy="666.25" r="2.4"/>
<circle cx="385.50" cy="681.75" r="2.4"/>
<circle cx="418.80" cy="601.50" r="2.4"/>
<circle cx="418.80" cy="609.20" r="2.4"/>
<circle cx="418.10" cy="630.80" r="2.4"/>
<circle cx="419.60" cy="634.60" r="2.4"/>
<circle cx="417.30" cy="638.50" r="2.4"/>
<circle cx="420.40" cy="639.20" r="2.4"/>
<circle cx="418.10" cy="642.30" r="2.4"/>
<circle cx="419.60" cy="646.20" r="2.4"/>
<circle cx="418.10" cy="649.20" r="2.4"/>
<circle cx="420.40" cy="652.30" r="2.4"/>
<circle cx="417.30" cy="656.20" r="2.4"/>
<circle cx="421.20" cy="656.20" r="2.4"/>
<circle cx="420.40" cy="663.10" r="2.4"/>
<circle cx="417.30" cy="666.90" r="2.4"/>
<circle cx="414.20" cy="670.00" r="2.4"/>
<circle cx="421.90" cy="670.00" r="2.4"/>
<circle cx="426.50" cy="670.00" r="2.4"/>
<circle cx="410.40" cy="673.80" r="2.4"/>
<circle cx="417.30" cy="673.80" r="2.4"/>
<circle cx="423.50" cy="673.10" r="2.4"/>
<circle cx="420.40" cy="676.20" r="2.4"/>
<circle cx="415.80" cy="679.20" r="2.4"/>
<circle cx="418.10" cy="681.50" r="2.4"/>
<circle cx="421.90" cy="681.50" r="2.4"/>
<circle cx="418.10" cy="685.40" r="2.4"/>
<circle cx="421.20" cy="688.50" r="2.4"/>
<circle cx="417.30" cy="691.50" r="2.4"/>
<circle cx="452.70" cy="609.20" r="2.4"/>
<circle cx="450.70" cy="616.20" r="2.4"/>
<circle cx="454.20" cy="616.20" r="2.4"/>
<circle cx="455.00" cy="634.20" r="2.4"/>
<circle cx="452.70" cy="636.90" r="2.4"/>
<circle cx="449.60" cy="640.80" r="2.4"/>
<circle cx="455.80" cy="640.80" r="2.4"/>
<circle cx="452.70" cy="643.80" r="2.4"/>
<circle cx="445.00" cy="656.50" r="2.4"/>
<circle cx="448.80" cy="656.20" r="2.4"/>
<circle cx="452.70" cy="656.90" r="2.4"/>
<circle cx="457.30" cy="656.50" r="2.4"/>
<circle cx="461.20" cy="656.20" r="2.4"/>
<circle cx="447.30" cy="660.00" r="2.4"/>
<circle cx="452.70" cy="660.80" r="2.4"/>
<circle cx="449.60" cy="663.80" r="2.4"/>
<circle cx="452.70" cy="666.90" r="2.4"/>
<circle cx="452.70" cy="673.80" r="2.4"/>
<circle cx="449.60" cy="677.70" r="2.4"/>
<circle cx="455.00" cy="677.70" r="2.4"/>
<circle cx="485.80" cy="656.20" r="2.4"/>
<circle cx="490.00" cy="658.90" r="2.4"/>
<circle cx="494.20" cy="659.20" r="2.4"/>
<circle cx="477.70" cy="663.10" r="2.4"/>
<circle cx="481.50" cy="666.50" r="2.4"/>
<circle cx="485.80" cy="665.70" r="2.4"/>
<circle cx="490.00" cy="666.20" r="2.4"/>
<circle cx="494.20" cy="666.90" r="2.4"/>
<circle cx="477.70" cy="670.30" r="2.4"/>
<circle cx="485.80" cy="674.60" r="2.4"/>
<circle cx="477.70" cy="681.80" r="2.4"/>
<circle cx="490.00" cy="681.50" r="2.4"/>
<circle cx="494.20" cy="681.50" r="2.4"/>
<circle cx="485.80" cy="685.10" r="2.4"/>
<circle cx="485.80" cy="700.00" r="2.4"/>
</g>
<line x1="388.00" y1="563.75" x2="415.75" y2="563.75" stroke="#111" stroke-width="1.25" />
<line x1="388.00" y1="559.55" x2="388.00" y2="567.95" stroke="#111" stroke-width="1.6" />
<line x1="415.75" y1="559.55" x2="415.75" y2="567.95" stroke="#111" stroke-width="1.6" />
<text transform="translate(402.00,557.05) scale(1.075,1)" font-size="10.0" text-anchor="middle" fill="#111" >0.02</text>
<line x1="419.25" y1="563.75" x2="489.25" y2="563.75" stroke="#111" stroke-width="1.25" />
<line x1="419.25" y1="559.55" x2="419.25" y2="567.95" stroke="#111" stroke-width="1.6" />
<line x1="489.25" y1="559.55" x2="489.25" y2="567.95" stroke="#111" stroke-width="1.6" />
<text x="454.50" y="557.05" font-size="10.0" text-anchor="middle" fill="#111" >ns</text>
<line x1="418.00" y1="579.25" x2="453.75" y2="579.25" stroke="#111" stroke-width="1.25" />
<line x1="418.00" y1="575.05" x2="418.00" y2="583.45" stroke="#111" stroke-width="1.6" />
<line x1="453.75" y1="575.05" x2="453.75" y2="583.45" stroke="#111" stroke-width="1.6" />
<text x="436.25" y="572.55" font-size="10.0" text-anchor="middle" fill="#111" >ns</text>
<text x="292.00" y="635.00" font-size="10.2" text-anchor="start" fill="#111" letter-spacing="0.22">IFN-γ</text>
<g transform="translate(333.70,630.55) rotate(-90) scale(0.612,1)">
<text x="0.00" y="0.00" font-size="14.6" text-anchor="middle" fill="#111" class="yl" font-weight="bold" word-spacing="4.2">Cytokine levels (log10, pg/mL)</text>
</g>
<line x1="98.20" y1="816.30" x2="98.20" y2="966.90" stroke="#111" stroke-width="1.85" />
<line x1="97.30" y1="966.00" x2="242.70" y2="966.00" stroke="#111" stroke-width="1.85" />
<line x1="92.90" y1="820.50" x2="98.20" y2="820.50" stroke="#111" stroke-width="1.7" />
<text transform="translate(87.20,824.05) scale(1.055,1)" font-size="10.0" text-anchor="end" fill="#111" >2.0</text>
<line x1="92.90" y1="856.75" x2="98.20" y2="856.75" stroke="#111" stroke-width="1.7" />
<text transform="translate(87.20,860.30) scale(1.055,1)" font-size="10.0" text-anchor="end" fill="#111" >1.5</text>
<line x1="92.90" y1="893.00" x2="98.20" y2="893.00" stroke="#111" stroke-width="1.7" />
<text transform="translate(87.20,896.55) scale(1.055,1)" font-size="10.0" text-anchor="end" fill="#111" >1.0</text>
<line x1="92.90" y1="929.30" x2="98.20" y2="929.30" stroke="#111" stroke-width="1.7" />
<text transform="translate(87.20,932.85) scale(1.055,1)" font-size="10.0" text-anchor="end" fill="#111" >0.5</text>
<line x1="92.90" y1="965.60" x2="98.20" y2="965.60" stroke="#111" stroke-width="1.7" />
<text transform="translate(87.20,969.15) scale(1.055,1)" font-size="10.0" text-anchor="end" fill="#111" >0.0</text>
<line x1="120.40" y1="966.00" x2="120.40" y2="971.50" stroke="#111" stroke-width="1.7" />
<g transform="translate(125.40,985.10) rotate(-45)">
<text x="0.00" y="0.00" font-size="11.4" text-anchor="end" fill="#111" >MCD+KS</text>
</g>
<line x1="153.80" y1="966.00" x2="153.80" y2="971.50" stroke="#111" stroke-width="1.7" />
<g transform="translate(158.80,985.10) rotate(-45)">
<text x="0.00" y="0.00" font-size="11.4" text-anchor="end" fill="#111" >KICS+/–KS</text>
</g>
<line x1="187.50" y1="966.00" x2="187.50" y2="971.50" stroke="#111" stroke-width="1.7" />
<g transform="translate(192.50,985.10) rotate(-45)">
<text x="0.00" y="0.00" font-size="11.4" text-anchor="end" fill="#111" >PEL+/–KS</text>
</g>
<line x1="221.20" y1="966.00" x2="221.20" y2="971.50" stroke="#111" stroke-width="1.7" />
<g transform="translate(226.20,985.10) rotate(-45)">
<text x="0" y="0" font-size="11.4" text-anchor="end" fill="#111">KS <tspan font-size="10.4">alone</tspan></text>
</g>
<line x1="120.30" y1="886.90" x2="120.30" y2="906.20" stroke="#111" stroke-width="1.3" />
<line x1="115.10" y1="886.90" x2="125.50" y2="886.90" stroke="#111" stroke-width="1.3" />
<line x1="115.10" y1="906.20" x2="125.50" y2="906.20" stroke="#111" stroke-width="1.3" />
<line x1="187.50" y1="905.10" x2="187.50" y2="920.00" stroke="#111" stroke-width="1.3" />
<line x1="182.10" y1="905.10" x2="192.90" y2="905.10" stroke="#111" stroke-width="1.3" />
<line x1="182.10" y1="920.00" x2="192.90" y2="920.00" stroke="#111" stroke-width="1.3" />
<line x1="221.20" y1="909.50" x2="221.20" y2="952.00" stroke="#111" stroke-width="1.3" />
<line x1="216.70" y1="909.50" x2="225.70" y2="909.50" stroke="#111" stroke-width="1.3" />
<line x1="216.70" y1="952.00" x2="225.70" y2="952.00" stroke="#111" stroke-width="1.3" />
<g fill="#cf1238" stroke="#a90b2a" stroke-width="0.85">
<circle cx="120.30" cy="840.80" r="2.4"/>
<circle cx="120.30" cy="867.70" r="2.4"/>
<circle cx="120.30" cy="880.00" r="2.4"/>
<circle cx="120.30" cy="886.90" r="2.4"/>
<circle cx="112.30" cy="897.70" r="2.4"/>
<circle cx="125.40" cy="897.20" r="2.4"/>
<circle cx="115.40" cy="900.80" r="2.4"/>
<circle cx="123.10" cy="900.00" r="2.4"/>
<circle cx="119.20" cy="903.10" r="2.4"/>
<circle cx="125.40" cy="902.30" r="2.4"/>
<circle cx="122.30" cy="905.40" r="2.4"/>
<circle cx="119.20" cy="906.90" r="2.4"/>
<circle cx="124.60" cy="906.60" r="2.4"/>
<circle cx="117.70" cy="910.00" r="2.4"/>
<circle cx="122.30" cy="910.80" r="2.4"/>
<circle cx="119.20" cy="913.80" r="2.4"/>
<circle cx="122.30" cy="915.40" r="2.4"/>
<circle cx="120.30" cy="923.10" r="2.4"/>
<circle cx="153.80" cy="869.50" r="2.4"/>
<circle cx="153.10" cy="886.50" r="2.4"/>
<circle cx="155.40" cy="887.70" r="2.4"/>
<circle cx="153.80" cy="895.40" r="2.4"/>
<circle cx="153.80" cy="908.20" r="2.4"/>
<circle cx="162.60" cy="911.80" r="2.4"/>
<circle cx="145.80" cy="914.50" r="2.4"/>
<circle cx="151.20" cy="913.80" r="2.4"/>
<circle cx="157.20" cy="913.20" r="2.4"/>
<circle cx="148.50" cy="917.20" r="2.4"/>
<circle cx="154.50" cy="917.20" r="2.4"/>
<circle cx="159.90" cy="916.50" r="2.4"/>
<circle cx="146.40" cy="921.20" r="2.4"/>
<circle cx="156.50" cy="920.60" r="2.4"/>
<circle cx="161.20" cy="920.60" r="2.4"/>
<circle cx="149.10" cy="923.90" r="2.4"/>
<circle cx="158.60" cy="923.90" r="2.4"/>
<circle cx="147.10" cy="927.30" r="2.4"/>
<circle cx="152.50" cy="927.30" r="2.4"/>
<circle cx="157.20" cy="926.60" r="2.4"/>
<circle cx="150.50" cy="930.70" r="2.4"/>
<circle cx="155.20" cy="930.70" r="2.4"/>
<circle cx="151.80" cy="934.00" r="2.4"/>
<circle cx="153.80" cy="936.00" r="2.4"/>
<circle cx="157.90" cy="935.40" r="2.4"/>
<circle cx="151.20" cy="938.70" r="2.4"/>
<circle cx="156.50" cy="939.40" r="2.4"/>
<circle cx="153.20" cy="942.10" r="2.4"/>
<circle cx="157.90" cy="942.10" r="2.4"/>
<circle cx="149.10" cy="945.90" r="2.4"/>
<circle cx="154.50" cy="944.80" r="2.4"/>
<circle cx="185.50" cy="889.80" r="2.4"/>
<circle cx="189.50" cy="890.10" r="2.4"/>
<circle cx="187.20" cy="896.40" r="2.4"/>
<circle cx="192.20" cy="901.50" r="2.4"/>
<circle cx="179.10" cy="904.60" r="2.4"/>
<circle cx="196.20" cy="904.20" r="2.4"/>
<circle cx="181.40" cy="908.60" r="2.4"/>
<circle cx="185.50" cy="908.20" r="2.4"/>
<circle cx="189.50" cy="908.20" r="2.4"/>
<circle cx="193.50" cy="907.50" r="2.4"/>
<circle cx="179.10" cy="912.30" r="2.4"/>
<circle cx="196.20" cy="912.30" r="2.4"/>
<circle cx="183.50" cy="911.50" r="2.4"/>
<circle cx="192.20" cy="911.50" r="2.4"/>
<circle cx="192.90" cy="916.00" r="2.4"/>
<circle cx="182.40" cy="917.70" r="2.4"/>
<circle cx="184.50" cy="920.00" r="2.4"/>
<circle cx="190.20" cy="921.00" r="2.4"/>
<circle cx="186.80" cy="922.00" r="2.4"/>
<circle cx="192.90" cy="924.40" r="2.4"/>
<circle cx="185.10" cy="926.40" r="2.4"/>
<circle cx="189.20" cy="929.50" r="2.4"/>
<circle cx="187.50" cy="961.00" r="2.4"/>
<circle cx="221.20" cy="898.00" r="2.4"/>
<circle cx="212.70" cy="908.50" r="2.4"/>
<circle cx="223.80" cy="908.50" r="2.4"/>
<circle cx="218.50" cy="910.80" r="2.4"/>
<circle cx="223.80" cy="914.60" r="2.4"/>
<circle cx="218.50" cy="916.90" r="2.4"/>
<circle cx="212.70" cy="926.50" r="2.4"/>
<circle cx="218.10" cy="924.90" r="2.4"/>
<circle cx="229.60" cy="926.50" r="2.4"/>
<circle cx="223.80" cy="930.80" r="2.4"/>
<circle cx="212.70" cy="949.20" r="2.4"/>
<circle cx="218.10" cy="952.00" r="2.4"/>
<circle cx="223.80" cy="952.00" r="2.4"/>
<circle cx="229.60" cy="951.50" r="2.4"/>
<circle cx="221.20" cy="963.10" r="2.4"/>
</g>
<line x1="120.00" y1="826.75" x2="151.75" y2="826.75" stroke="#111" stroke-width="1.25" />
<line x1="120.00" y1="822.55" x2="120.00" y2="830.95" stroke="#111" stroke-width="1.6" />
<line x1="151.75" y1="822.55" x2="151.75" y2="830.95" stroke="#111" stroke-width="1.6" />
<text transform="translate(135.50,820.45) scale(1.075,1)" font-size="10.0" text-anchor="middle" fill="#111" >&lt;0.0001</text>
<line x1="155.75" y1="826.75" x2="216.75" y2="826.75" stroke="#111" stroke-width="1.25" />
<line x1="155.75" y1="822.55" x2="155.75" y2="830.95" stroke="#111" stroke-width="1.6" />
<line x1="216.75" y1="822.55" x2="216.75" y2="830.95" stroke="#111" stroke-width="1.6" />
<text x="186.25" y="820.45" font-size="10.0" text-anchor="middle" fill="#111" >ns</text>
<line x1="155.75" y1="845.00" x2="189.25" y2="845.00" stroke="#111" stroke-width="1.25" />
<line x1="155.75" y1="840.80" x2="155.75" y2="849.20" stroke="#111" stroke-width="1.6" />
<line x1="189.25" y1="840.80" x2="189.25" y2="849.20" stroke="#111" stroke-width="1.6" />
<text transform="translate(172.00,839.40) scale(1.075,1)" font-size="10.0" text-anchor="middle" fill="#111" >0.02</text>
<text x="12.00" y="893.70" font-size="10.2" text-anchor="start" fill="#111" letter-spacing="0.22">TNF-α</text>
<g transform="translate(59.50,889.35) rotate(-90) scale(0.612,1)">
<text x="0.00" y="0.00" font-size="14.6" text-anchor="middle" fill="#111" class="yl" font-weight="bold" word-spacing="4.2">Cytokine levels (log10, pg/mL)</text>
</g>
<line x1="363.20" y1="816.30" x2="363.20" y2="966.90" stroke="#111" stroke-width="1.85" />
<line x1="362.30" y1="966.00" x2="508.00" y2="966.00" stroke="#111" stroke-width="1.85" />
<line x1="357.90" y1="820.50" x2="363.20" y2="820.50" stroke="#111" stroke-width="1.7" />
<text transform="translate(352.20,824.05) scale(1.055,1)" font-size="10.0" text-anchor="end" fill="#111" >8</text>
<line x1="357.90" y1="856.75" x2="363.20" y2="856.75" stroke="#111" stroke-width="1.7" />
<text transform="translate(352.20,860.30) scale(1.055,1)" font-size="10.0" text-anchor="end" fill="#111" >6</text>
<line x1="357.90" y1="893.00" x2="363.20" y2="893.00" stroke="#111" stroke-width="1.7" />
<text transform="translate(352.20,896.55) scale(1.055,1)" font-size="10.0" text-anchor="end" fill="#111" >4</text>
<line x1="357.90" y1="929.30" x2="363.20" y2="929.30" stroke="#111" stroke-width="1.7" />
<text transform="translate(352.20,932.85) scale(1.055,1)" font-size="10.0" text-anchor="end" fill="#111" >2</text>
<line x1="357.90" y1="965.60" x2="363.20" y2="965.60" stroke="#111" stroke-width="1.7" />
<text transform="translate(352.20,969.15) scale(1.055,1)" font-size="10.0" text-anchor="end" fill="#111" >0</text>
<line x1="385.70" y1="966.00" x2="385.70" y2="971.50" stroke="#111" stroke-width="1.7" />
<g transform="translate(390.70,985.10) rotate(-45)">
<text x="0.00" y="0.00" font-size="11.4" text-anchor="end" fill="#111" >MCD+KS</text>
</g>
<line x1="418.80" y1="966.00" x2="418.80" y2="971.50" stroke="#111" stroke-width="1.7" />
<g transform="translate(423.80,985.10) rotate(-45)">
<text x="0.00" y="0.00" font-size="11.4" text-anchor="end" fill="#111" >KICS+/–KS</text>
</g>
<line x1="452.60" y1="966.00" x2="452.60" y2="971.50" stroke="#111" stroke-width="1.7" />
<g transform="translate(457.60,985.10) rotate(-45)">
<text x="0.00" y="0.00" font-size="11.4" text-anchor="end" fill="#111" >PEL+/–KS</text>
</g>
<line x1="485.80" y1="966.00" x2="485.80" y2="971.50" stroke="#111" stroke-width="1.7" />
<g transform="translate(490.80,985.10) rotate(-45)">
<text x="0" y="0" font-size="11.4" text-anchor="end" fill="#111">KS <tspan font-size="10.4">alone</tspan></text>
</g>
<line x1="385.75" y1="867.50" x2="385.75" y2="899.25" stroke="#111" stroke-width="1.3" />
<line x1="380.35" y1="867.50" x2="391.15" y2="867.50" stroke="#111" stroke-width="1.3" />
<line x1="380.35" y1="899.25" x2="391.15" y2="899.25" stroke="#111" stroke-width="1.3" />
<line x1="418.80" y1="900.40" x2="418.80" y2="965.70" stroke="#111" stroke-width="1.3" />
<line x1="413.40" y1="900.40" x2="424.20" y2="900.40" stroke="#111" stroke-width="1.3" />
<line x1="452.70" y1="889.20" x2="452.70" y2="919.90" stroke="#111" stroke-width="1.3" />
<line x1="447.30" y1="889.20" x2="458.10" y2="889.20" stroke="#111" stroke-width="1.3" />
<line x1="447.30" y1="919.90" x2="458.10" y2="919.90" stroke="#111" stroke-width="1.3" />
<g fill="#cf1238" stroke="#a90b2a" stroke-width="0.85">
<circle cx="385.75" cy="833.75" r="2.4"/>
<circle cx="385.75" cy="847.50" r="2.4"/>
<circle cx="381.25" cy="867.50" r="2.4"/>
<circle cx="389.25" cy="867.50" r="2.4"/>
<circle cx="385.75" cy="874.50" r="2.4"/>
<circle cx="377.50" cy="880.00" r="2.4"/>
<circle cx="385.75" cy="883.75" r="2.4"/>
<circle cx="377.50" cy="889.50" r="2.4"/>
<circle cx="385.75" cy="893.25" r="2.4"/>
<circle cx="377.50" cy="899.25" r="2.4"/>
<circle cx="393.75" cy="899.25" r="2.4"/>
<circle cx="385.75" cy="916.75" r="2.4"/>
<circle cx="385.75" cy="938.75" r="2.4"/>
<circle cx="418.80" cy="855.80" r="2.4"/>
<circle cx="418.80" cy="873.50" r="2.4"/>
<circle cx="418.10" cy="880.40" r="2.4"/>
<circle cx="420.40" cy="881.90" r="2.4"/>
<circle cx="419.30" cy="889.60" r="2.4"/>
<circle cx="417.80" cy="894.20" r="2.4"/>
<circle cx="420.40" cy="898.80" r="2.4"/>
<circle cx="414.20" cy="902.20" r="2.4"/>
<circle cx="418.10" cy="901.90" r="2.4"/>
<circle cx="424.20" cy="905.80" r="2.4"/>
<circle cx="421.20" cy="905.00" r="2.4"/>
<circle cx="416.50" cy="905.80" r="2.4"/>
<circle cx="418.10" cy="908.80" r="2.4"/>
<circle cx="420.80" cy="909.60" r="2.4"/>
<circle cx="418.80" cy="912.70" r="2.4"/>
<circle cx="419.60" cy="916.50" r="2.4"/>
<circle cx="418.10" cy="920.40" r="2.4"/>
<circle cx="420.40" cy="921.20" r="2.4"/>
<circle cx="418.10" cy="925.00" r="2.4"/>
<circle cx="419.60" cy="926.50" r="2.4"/>
<circle cx="418.80" cy="935.80" r="2.4"/>
<circle cx="418.80" cy="939.60" r="2.4"/>
<circle cx="412.30" cy="965.70" r="2.4"/>
<circle cx="414.48" cy="965.70" r="2.4"/>
<circle cx="416.67" cy="965.70" r="2.4"/>
<circle cx="418.85" cy="965.70" r="2.4"/>
<circle cx="421.03" cy="965.70" r="2.4"/>
<circle cx="423.22" cy="965.70" r="2.4"/>
<circle cx="425.40" cy="965.70" r="2.4"/>
<circle cx="456.80" cy="860.40" r="2.4"/>
<circle cx="452.70" cy="864.20" r="2.4"/>
<circle cx="450.40" cy="875.80" r="2.4"/>
<circle cx="454.70" cy="877.00" r="2.4"/>
<circle cx="452.70" cy="887.30" r="2.4"/>
<circle cx="448.50" cy="891.90" r="2.4"/>
<circle cx="456.50" cy="897.30" r="2.4"/>
<circle cx="448.80" cy="899.20" r="2.4"/>
<circle cx="452.70" cy="898.10" r="2.4"/>
<circle cx="444.20" cy="907.30" r="2.4"/>
<circle cx="452.70" cy="907.80" r="2.4"/>
<circle cx="457.30" cy="906.50" r="2.4"/>
<circle cx="461.20" cy="906.50" r="2.4"/>
<circle cx="448.50" cy="911.90" r="2.4"/>
<circle cx="456.50" cy="918.80" r="2.4"/>
<circle cx="452.70" cy="920.10" r="2.4"/>
<circle cx="452.70" cy="926.20" r="2.4"/>
<circle cx="452.70" cy="934.20" r="2.4"/>
<circle cx="450.40" cy="965.70" r="2.4"/>
<circle cx="454.20" cy="965.70" r="2.4"/>
<circle cx="485.80" cy="898.40" r="2.4"/>
<circle cx="485.80" cy="926.20" r="2.4"/>
<circle cx="478.50" cy="965.70" r="2.4"/>
<circle cx="480.98" cy="965.70" r="2.4"/>
<circle cx="483.47" cy="965.70" r="2.4"/>
<circle cx="485.95" cy="965.70" r="2.4"/>
<circle cx="488.43" cy="965.70" r="2.4"/>
<circle cx="490.92" cy="965.70" r="2.4"/>
<circle cx="493.40" cy="965.70" r="2.4"/>
</g>
<line x1="383.75" y1="806.75" x2="414.25" y2="806.75" stroke="#111" stroke-width="1.25" />
<line x1="383.75" y1="802.55" x2="383.75" y2="810.95" stroke="#111" stroke-width="1.6" />
<line x1="414.25" y1="802.55" x2="414.25" y2="810.95" stroke="#111" stroke-width="1.6" />
<text transform="translate(398.75,800.05) scale(1.075,1)" font-size="10.0" text-anchor="middle" fill="#111" >0.0003</text>
<line x1="418.00" y1="806.75" x2="482.00" y2="806.75" stroke="#111" stroke-width="1.25" />
<line x1="418.00" y1="802.55" x2="418.00" y2="810.95" stroke="#111" stroke-width="1.6" />
<line x1="482.00" y1="802.55" x2="482.00" y2="810.95" stroke="#111" stroke-width="1.6" />
<text transform="translate(449.25,799.45) scale(1.075,1)" font-size="10.0" text-anchor="middle" fill="#111" >0.0001</text>
<line x1="418.00" y1="824.50" x2="451.75" y2="824.50" stroke="#111" stroke-width="1.25" />
<line x1="418.00" y1="820.30" x2="418.00" y2="828.70" stroke="#111" stroke-width="1.6" />
<line x1="451.75" y1="820.30" x2="451.75" y2="828.70" stroke="#111" stroke-width="1.6" />
<text x="435.00" y="817.20" font-size="10.0" text-anchor="middle" fill="#111" >ns</text>
<text x="270.00" y="893.70" font-size="10.2" text-anchor="start" fill="#111" letter-spacing="0.22">KSHV VL</text>
<g transform="translate(337.00,889.00) rotate(-90) scale(0.593,1)">
<text x="0.00" y="0.00" font-size="14.6" text-anchor="middle" fill="#111" class="yl" font-weight="bold" word-spacing="4.2">KSHV viral load (log copies/10<tspan font-size="11" dy="-5">6</tspan><tspan dy="5"> cells)</tspan></text>
</g>
</svg>
</body></html>
